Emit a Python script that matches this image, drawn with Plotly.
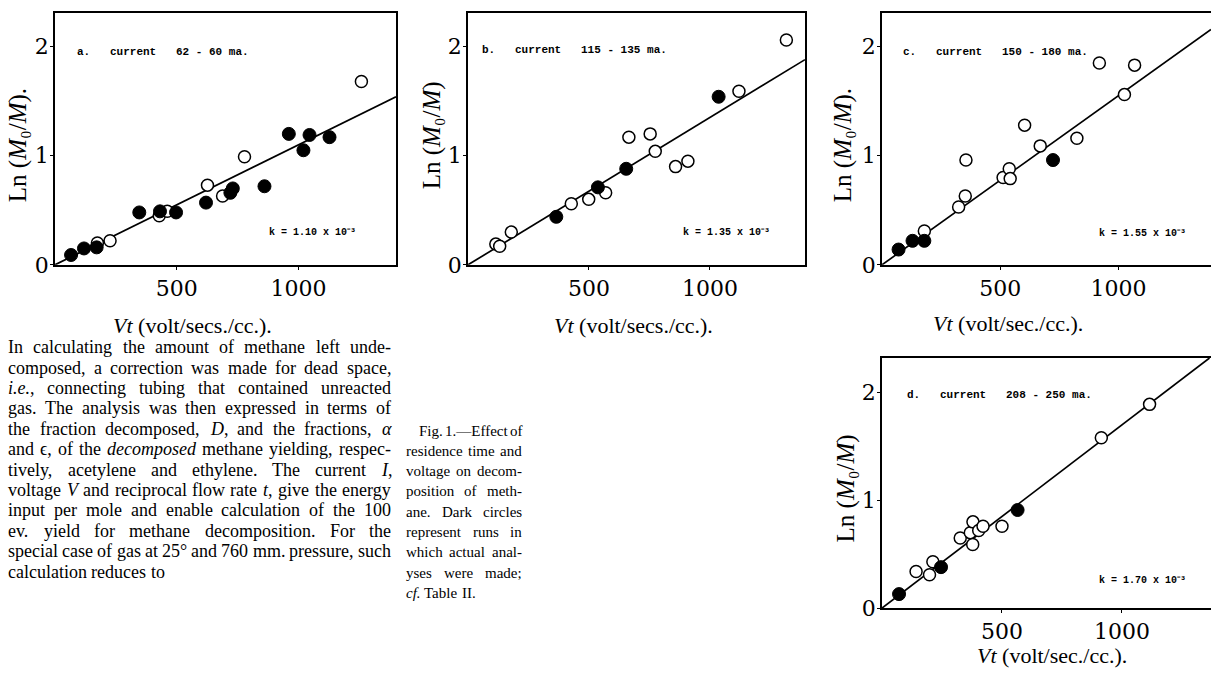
import re
import plotly.graph_objects as go

W, H = 1211, 678

# ---------------- data ----------------
# panel a: current 62-60 ma, k = 1.10e-3
a_open_x = [174, 226, 428, 461, 626, 688, 778, 1258]
a_open_y = [0.20, 0.22, 0.45, 0.49, 0.73, 0.63, 0.99, 1.68]
a_fill_x = [66, 119, 171, 346, 431, 497, 620, 720, 730, 860, 960, 1020, 1045, 1127]
a_fill_y = [0.09, 0.15, 0.16, 0.48, 0.49, 0.48, 0.57, 0.66, 0.70, 0.72, 1.20, 1.05, 1.19, 1.17]
a_k = 1.10e-3

# panel b: current 115-135 ma, k = 1.35e-3
b_open_x = [115, 131, 179, 427, 499, 569, 665, 753, 774, 858, 909, 1120, 1316]
b_open_y = [0.19, 0.17, 0.30, 0.56, 0.60, 0.66, 1.17, 1.20, 1.04, 0.90, 0.95, 1.59, 2.06]
b_fill_x = [365, 537, 654, 1036]
b_fill_y = [0.44, 0.71, 0.88, 1.54]
b_k = 1.35e-3

# panel c: current 150-180 ma, k = 1.55e-3
c_open_x = [179, 324, 352, 355, 512, 538, 542, 603, 669, 824, 919, 1025, 1068]
c_open_y = [0.31, 0.53, 0.63, 0.96, 0.80, 0.88, 0.79, 1.28, 1.09, 1.16, 1.85, 1.56, 1.83]
c_fill_x = [70, 129, 179, 723]
c_fill_y = [0.14, 0.22, 0.22, 0.96]
c_k = 1.55e-3

# panel d: current 208-250 ma, k = 1.70e-3
d_open_x = [142, 198, 212, 326, 368, 379, 378, 403, 421, 500, 914, 1115]
d_open_y = [0.34, 0.31, 0.43, 0.65, 0.70, 0.80, 0.59, 0.72, 0.76, 0.76, 1.58, 1.89]
d_fill_x = [71, 246, 565]
d_fill_y = [0.13, 0.38, 0.91]
d_k = 1.70e-3

panel_letters = ["a", "b", "c", "d"]
panel_currents = ["62 - 60", "115 - 135", "150 - 180", "208 - 250"]
panel_k_text = ["1.10", "1.35", "1.55", "1.70"]
x_titles = ["volt/secs./cc.", "volt/secs./cc.", "volt/sec./cc.", "volt/sec./cc."]
y_title_end = [".", "", ".", ""]
x_tick_vals = [500, 1000]
x_tick_text = ["500", "1000"]
y_tick_vals = [0, 1, 2]
y_tick_text = ["0", "1", "2"]

body_lines = [
    "In calculating the amount of methane left unde-",
    "composed, a correction was made for dead space,",
    "<i>i.e.</i>, connecting tubing that contained unreacted",
    "gas. The analysis was then expressed in terms of",
    "the fraction decomposed, <i>D</i>, and the fractions, <i>α</i>",
    "and ϵ, of the <i>decomposed</i> methane yielding, respec-",
    "tively, acetylene and ethylene. The current <i>I</i>,",
    "voltage <i>V</i> and reciprocal flow rate <i>t</i>, give the energy",
    "input per mole and enable calculation of the 100",
    "ev. yield for methane decomposition. For the",
    "special case of gas at 25° and 760 mm. pressure, such",
    "calculation reduces to",
]
caption_lines = [
    "Fig. 1.—Effect of",
    "residence time and",
    "voltage on decom-",
    "position of meth-",
    "ane. Dark circles",
    "represent runs in",
    "which actual anal-",
    "yses were made;",
    "<i>cf.</i> Table II.",
]

# ---------------- layout geometry (pixels) ----------------
boxes = [  # left, right, top, bottom
    (55, 396, 13, 270),
    (468, 805, 13, 270),
    (882, 1211, 13, 270),
    (882, 1211, 365, 620),
]
x_ranges = [[0, 1400], [0, 1393], [0, 1391], [0, 1371]]
y_ranges = [[0, 2.31], [0, 2.31], [0, 2.31], [0, 2.32]]


def px(x):
    return x / W


def py(y):
    return 1 - y / H


SERIF = "Liberation Serif"
TICKFONT = "DejaVu Serif"
MONO = "Liberation Mono"

# Times metrics (Liberation Serif is metric compatible) for justified text
ROMAN = {' ': 250, '!': 333, '(': 333, ')': 333, ',': 250, '-': 333, '.': 250, '/': 278,
         ':': 278, ';': 278, '°': 400, '—': 1000, 'α': 540, 'ϵ': 430,
         'A': 722, 'B': 667, 'C': 667, 'D': 722, 'E': 611, 'F': 556, 'G': 722, 'H': 722,
         'I': 333, 'J': 389, 'K': 722, 'L': 611, 'M': 889, 'N': 722, 'O': 722, 'P': 556,
         'Q': 722, 'R': 667, 'S': 556, 'T': 611, 'U': 722, 'V': 722, 'W': 944, 'X': 722,
         'Y': 722, 'Z': 611,
         'a': 444, 'b': 500, 'c': 444, 'd': 500, 'e': 444, 'f': 333, 'g': 500, 'h': 500,
         'i': 278, 'j': 278, 'k': 500, 'l': 278, 'm': 778, 'n': 500, 'o': 500, 'p': 500,
         'q': 500, 'r': 333, 's': 389, 't': 278, 'u': 500, 'v': 500, 'w': 722, 'x': 500,
         'y': 500, 'z': 444}
for dch in "0123456789":
    ROMAN[dch] = 500
ITALIC = dict(ROMAN)
ITALIC.update({'a': 500, 'f': 278, 'k': 444, 'm': 722, 'r': 389, 'v': 444, 'w': 667,
               'x': 444, 'y': 444, 'z': 389, 'V': 611, 'α': 520})


def text_width(html, size):
    total = 0.0
    italic = False
    for part in re.split(r"(</?i>)", html):
        if part == "<i>":
            italic = True
            continue
        if part == "</i>":
            italic = False
            continue
        table = ITALIC if italic else ROMAN
        for ch in part:
            total += table.get(ch, 500)
    return total * size / 1000.0


def justified(lines, left, right, y0, dy, size, first_indent=0, color="black"):
    out = []
    for j, line in enumerate(lines):
        words = line.split(" ")
        x_start = left + (first_indent if j == 0 else 0)
        widths = [text_width(w, size) for w in words]
        last = (j == len(lines) - 1)
        if last or len(words) == 1:
            gap = 250 * size / 1000.0
        else:
            gap = (right - x_start - sum(widths)) / (len(words) - 1)
        x = x_start
        for w, wd in zip(words, widths):
            out.append(dict(x=px(x), y=py(y0 + j * dy), xref="paper", yref="paper",
                            xanchor="left", yanchor="middle", showarrow=False, text=w,
                            borderpad=0, font=dict(family=SERIF, size=size, color=color)))
            x += wd + gap
    return out


fig = go.Figure()
open_sets = [(a_open_x, a_open_y), (b_open_x, b_open_y), (c_open_x, c_open_y), (d_open_x, d_open_y)]
fill_sets = [(a_fill_x, a_fill_y), (b_fill_x, b_fill_y), (c_fill_x, c_fill_y), (d_fill_x, d_fill_y)]
ks = [a_k, b_k, c_k, d_k]

for i in range(4):
    sfx = "" if i == 0 else str(i + 1)
    xa, ya = "x" + sfx, "y" + sfx
    k = ks[i]
    xend = min(x_ranges[i][1], y_ranges[i][1] / k)
    fig.add_trace(go.Scatter(x=[0, xend], y=[0, k * xend], mode="lines",
                             line=dict(color="black", width=1.7),
                             xaxis=xa, yaxis=ya, showlegend=False, hoverinfo="skip"))
    ox, oy = open_sets[i]
    fig.add_trace(go.Scatter(x=ox, y=oy, mode="markers",
                             marker=dict(symbol="circle", size=12, color="white",
                                         line=dict(color="black", width=1.5)),
                             xaxis=xa, yaxis=ya, showlegend=False, cliponaxis=False))
    fx, fy = fill_sets[i]
    fig.add_trace(go.Scatter(x=fx, y=fy, mode="markers",
                             marker=dict(symbol="circle", size=13, color="black",
                                         line=dict(color="black", width=1)),
                             xaxis=xa, yaxis=ya, showlegend=False, cliponaxis=False))

layout = dict(
    width=W, height=H,
    margin=dict(l=0, r=0, t=0, b=0),
    paper_bgcolor="white", plot_bgcolor="white",
    showlegend=False,
)
for i in range(4):
    l, r, t, b = boxes[i]
    sfx = "" if i == 0 else str(i + 1)
    layout["xaxis" + sfx] = dict(
        domain=[px(l), min(1.0, px(r))], range=x_ranges[i],
        anchor="y" + sfx, tickvals=x_tick_vals, ticktext=x_tick_text,
        showgrid=False, zeroline=False, showline=True, linecolor="black", linewidth=1.5,
        mirror=True, ticks="outside", ticklen=3, tickwidth=1.2, tickcolor="black",
        tickfont=dict(family=TICKFONT, size=22, color="black"),
    )
    layout["yaxis" + sfx] = dict(
        domain=[py(b), py(t)], range=y_ranges[i],
        anchor="x" + sfx, tickvals=y_tick_vals, ticktext=y_tick_text,
        showgrid=False, zeroline=False, showline=True, linecolor="black", linewidth=1.5,
        mirror=(i < 2), ticks="outside", ticklen=3, tickwidth=1.2, tickcolor="black",
        ticklabelstandoff=-3,
        tickfont=dict(family=TICKFONT, size=22, color="black"),
    )
fig.update_layout(**layout)

ann = []
label_pos = [(76, 53), (481, 51), (902, 53), (906, 403)]
k_pos = [(312, 237), (726, 237), (1142, 238), (1142, 592)]
ylab_pos = [(18, 148), (432, 138), (843, 148), (846, 498)]
xlab_pos = [(192, 332), (633, 332), (1008, 330), (1052, 668)]
for i in range(4):
    lx, ly = label_pos[i]
    ann.append(dict(x=px(lx), y=py(ly), xref="paper", yref="paper", xanchor="left", yanchor="middle",
                    text=f"<b>{panel_letters[i]}.   current   {panel_currents[i]} ma.</b>", showarrow=False,
                    borderpad=0, font=dict(family=MONO, size=11, color="black")))
    kx, ky = k_pos[i]
    ann.append(dict(x=px(kx), y=py(ky), xref="paper", yref="paper", xanchor="center", yanchor="middle",
                    text=f"<b>k = {panel_k_text[i]} x 10⁻³</b>", showarrow=False,
                    borderpad=0, font=dict(family=MONO, size=10, color="black")))
    yx, yy = ylab_pos[i]
    ann.append(dict(x=px(yx), y=py(yy), xref="paper", yref="paper", xanchor="center", yanchor="middle",
                    textangle=-90, showarrow=False, borderpad=0,
                    text=f"Ln (<i>M</i>₀/<i>M</i>){y_title_end[i]}",
                    font=dict(family=SERIF, size=25, color="black")))
    xx, xy = xlab_pos[i]
    ann.append(dict(x=px(xx), y=py(xy), xref="paper", yref="paper", xanchor="center", yanchor="middle",
                    showarrow=False, borderpad=0, text=f"<i>Vt</i> ({x_titles[i]}).",
                    font=dict(family=SERIF, size=22, color="black")))

ann += justified(body_lines, 7, 390, 354, 20.8, 18)
ann += justified(caption_lines, 405, 521, 439, 20.7, 15, first_indent=13)

fig.update_layout(annotations=ann)
fig.write_html("out.html", config={"displayModeBar": False},
               post_script="document.body.style.margin='0px';document.body.style.overflow='hidden';")
